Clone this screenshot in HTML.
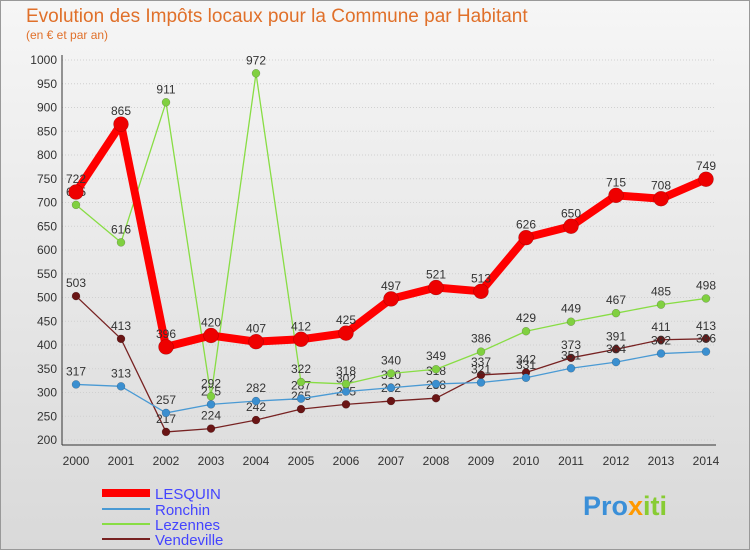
<!DOCTYPE html>
<html><head><meta charset="utf-8"><style>
body{margin:0;width:750px;height:550px;overflow:hidden;font-family:"Liberation Sans",sans-serif}
svg{display:block}
</style></head><body>
<svg id="c" width="750" height="550" xmlns="http://www.w3.org/2000/svg">
<defs><linearGradient id="bg" x1="0" y1="0" x2="0" y2="1"><stop offset="0" stop-color="#f6f6f6"/><stop offset="1" stop-color="#d9d9d9"/></linearGradient></defs>
<rect x="0.5" y="0.5" width="749" height="549" fill="url(#bg)" stroke="#999"/>
<text x="26" y="22" font-size="19" fill="#e0702a">Evolution des Impôts locaux pour la Commune par Habitant</text>
<text x="26" y="39" font-size="12" fill="#e0702a">(en € et par an)</text>
<g id="axes"></g><g id="series"></g>
<g font-size="15">
<line x1="102" y1="493" x2="150" y2="493" stroke="#ff0000" stroke-width="8"/>
<text x="155" y="499" fill="#4444ff">LESQUIN</text>
<line x1="102" y1="509" x2="150" y2="509" stroke="#4a9ad4" stroke-width="2"/>
<text x="155" y="515" fill="#4444ff">Ronchin</text>
<line x1="102" y1="524" x2="150" y2="524" stroke="#88dd44" stroke-width="2"/>
<text x="155" y="530" fill="#4444ff">Lezennes</text>
<line x1="102" y1="539" x2="150" y2="539" stroke="#772222" stroke-width="2"/>
<text x="155" y="545" fill="#4444ff">Vendeville</text>
</g>
<text x="583" y="515" font-size="27" font-weight="bold"><tspan fill="#3a8fd8">Pro</tspan><tspan fill="#ff9900">x</tspan><tspan fill="#88cc33">iti</tspan></text>
</svg>
<script>
const years=[2000,2001,2002,2003,2004,2005,2006,2007,2008,2009,2010,2011,2012,2013,2014];
const lesquin=[722,865,396,420,407,412,425,497,521,513,626,650,715,708,749];
const ronchin=[317,313,257,275,282,287,302,310,318,321,331,351,364,382,386];
const lezennes=[695,616,911,292,972,322,318,340,349,386,429,449,467,485,498];
const vendeville=[503,413,217,224,242,265,275,282,288,337,342,373,391,411,413];
const yTicks=[200,250,300,350,400,450,500,550,600,650,700,750,800,850,900,950,1000];
const NS="http://www.w3.org/2000/svg";
const X=i=>76+i*45, Y=v=>440-(v-200)*0.475;
function mk(t,a,p){const e=document.createElementNS(NS,t);for(const k in a)e.setAttribute(k,a[k]);p.appendChild(e);return e;}
const ax=document.getElementById('axes'), sr=document.getElementById('series');
yTicks.forEach(v=>{
 const l=mk('line',{x1:62,x2:716,y1:Y(v),y2:Y(v),stroke:'#d0d0d0','stroke-dasharray':'1,2'},ax);
 
 
 const t=mk('text',{x:57,y:Y(v)+4,'text-anchor':'end','font-size':12,fill:'#333'},ax);t.textContent=v;
 
 
});
const ya=mk('line',{x1:62,x2:62,y1:55,y2:445,stroke:'#333'},ax);


const xa=mk('line',{x1:62,x2:716,y1:445,y2:445,stroke:'#333'},ax);


years.forEach((y,i)=>{
 const t=mk('text',{x:X(i),y:465,'text-anchor':'middle','font-size':12,fill:'#333'},ax);t.textContent=y;
 
 
});
function series(name,data,color,w,r,dot){
 const g=mk('g',{},sr);
 
 
 const pl=mk('polyline',{points:data.map((v,i)=>X(i)+','+Y(v)).join(' '),fill:'none',stroke:color,'stroke-width':w,'stroke-linejoin':'round'},g);
 
 
 data.forEach((v,i)=>{
  const c=mk('circle',{cx:X(i),cy:Y(v),r:r,fill:dot,stroke:'rgba(0,0,0,0.3)','stroke-width':0.5},g);
  
  
  const t=mk('text',{x:X(i),y:Y(v)-9,'text-anchor':'middle','font-size':12,fill:'#333'},g);t.textContent=v;
  
  
 });
}
series('vendeville',vendeville,'#772222',1.3,4,'#6a1515');
series('ronchin',ronchin,'#4a9ad4',1.3,4,'#3a8fd0');
series('lezennes',lezennes,'#88dd44',1.3,4,'#80d040');
series('lesquin',lesquin,'#ff0000',8,7.5,'#ee0000');
</script>
</body></html>
